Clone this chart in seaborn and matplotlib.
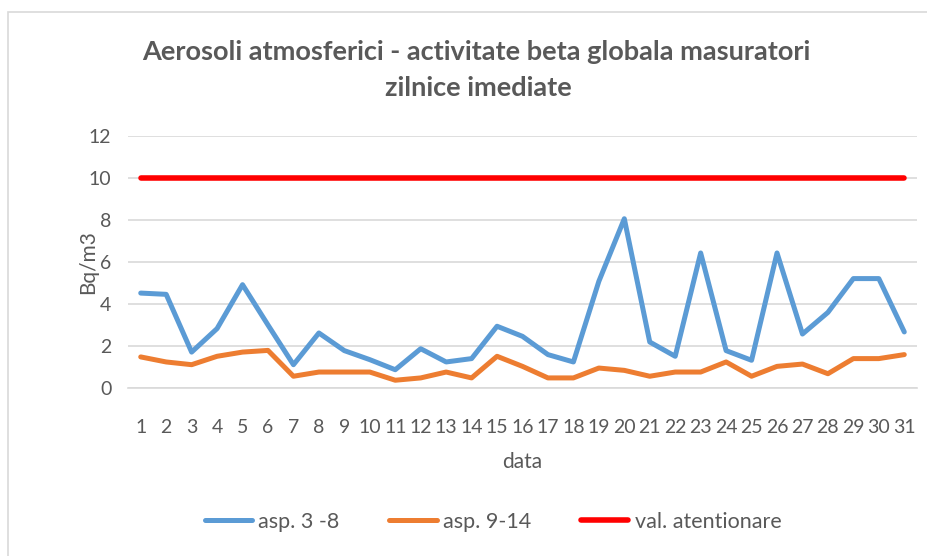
import numpy as np
import pandas as pd
import matplotlib
matplotlib.use('Agg')
import matplotlib.pyplot as plt
import seaborn as sns
from matplotlib.patches import Rectangle

# date
zile = list(range(1, 32))
asp_3_8 = [4.52, 4.46, 1.71, 2.83, 4.92, 3.0, 1.11, 2.62, 1.78, 1.35,
           0.87, 1.87, 1.24, 1.40, 2.94, 2.46, 1.59, 1.24, 5.08, 8.06,
           2.19, 1.51, 6.43, 1.78, 1.32, 6.43, 2.57, 3.60, 5.21, 5.21, 2.67]
asp_9_14 = [1.48, 1.24, 1.11, 1.51, 1.71, 1.79, 0.56, 0.76, 0.76, 0.76,
            0.37, 0.48, 0.76, 0.48, 1.51, 1.03, 0.48, 0.48, 0.95, 0.84,
            0.56, 0.76, 0.76, 1.24, 0.56, 1.03, 1.14, 0.68, 1.40, 1.40, 1.59]
val_atentionare = [10] * 31

serii = ['asp. 3 -8', 'asp. 9-14', 'val. atentionare']
culori = ['#5B9BD5', '#ED7D31', '#FF0000']
grosimi = [3.6, 3.6, 4.0]

df = pd.DataFrame({'data': zile * 3,
                   'val': asp_3_8 + asp_9_14 + val_atentionare,
                   'serie': [serii[0]] * 31 + [serii[1]] * 31 + [serii[2]] * 31})

sns.set_style('white')
plt.rcParams['font.family'] = ['Lato', 'DejaVu Sans']
text_col = '#595959'

fig = plt.figure(figsize=(9.28, 5.56), dpi=100)
ax = fig.add_axes([128 / 928, 1 - 388 / 556, (917 - 128) / 928, (388 - 136) / 556])

for s, c, w in zip(serii, culori, grosimi):
    sns.lineplot(data=df[df['serie'] == s], x='data', y='val', color=c,
                 linewidth=w, label=s, ax=ax, solid_capstyle='round',
                 solid_joinstyle='round')

ax.set_xlim(0.5, 31.5)
ax.set_ylim(0, 12)
ax.set_yticks(range(0, 13, 2))
ax.set_xticks(zile)
ax.set_xticklabels([str(z) for z in zile])
ax.set_xticks(np.arange(0.5, 32, 1), minor=True)
ax.yaxis.grid(True, color='#D9D9D9', linewidth=1.2)
ax.set_axisbelow(True)
for sp in ['top', 'right', 'left']:
    ax.spines[sp].set_visible(False)
ax.spines['bottom'].set_color('#D9D9D9')
ax.spines['bottom'].set_linewidth(1.2)
ax.tick_params(axis='x', which='major', length=0, pad=22, labelsize=14, labelcolor=text_col)
ax.tick_params(axis='x', which='minor', length=6, color='#D9D9D9', width=1.2)
ax.tick_params(axis='y', length=0, pad=12, labelsize=14, labelcolor=text_col)

ax.set_xlabel('data', fontsize=15, color=text_col, labelpad=12)
ax.set_ylabel('Bq/m3', fontsize=15, color=text_col, labelpad=-7)

fig.text(0.513, 1 - 52 / 556, 'Aerosoli atmosferici - activitate beta globala masuratori',
         ha='center', va='center', fontsize=19.5, fontweight='bold', color=text_col)
fig.text(0.515, 1 - 88 / 556, 'zilnice imediate',
         ha='center', va='center', fontsize=19.5, fontweight='bold', color=text_col)

ax.legend(loc='center', ncol=3, frameon=False, fontsize=15.5,
          handlelength=2.2, handletextpad=0.3, columnspacing=2.3, labelcolor=text_col)
leg = ax.get_legend()
leg.set_bbox_to_anchor((493 / 928, 1 - 522 / 556), transform=fig.transFigure)

# chenarul graficului
fig.patches.append(Rectangle((8 / 928, -0.05), 1.2, 1 - 12 / 556 + 0.05,
                             transform=fig.transFigure, fill=False,
                             edgecolor='#D9D9D9', linewidth=1.2))

fig.savefig('out.png', dpi=100)
